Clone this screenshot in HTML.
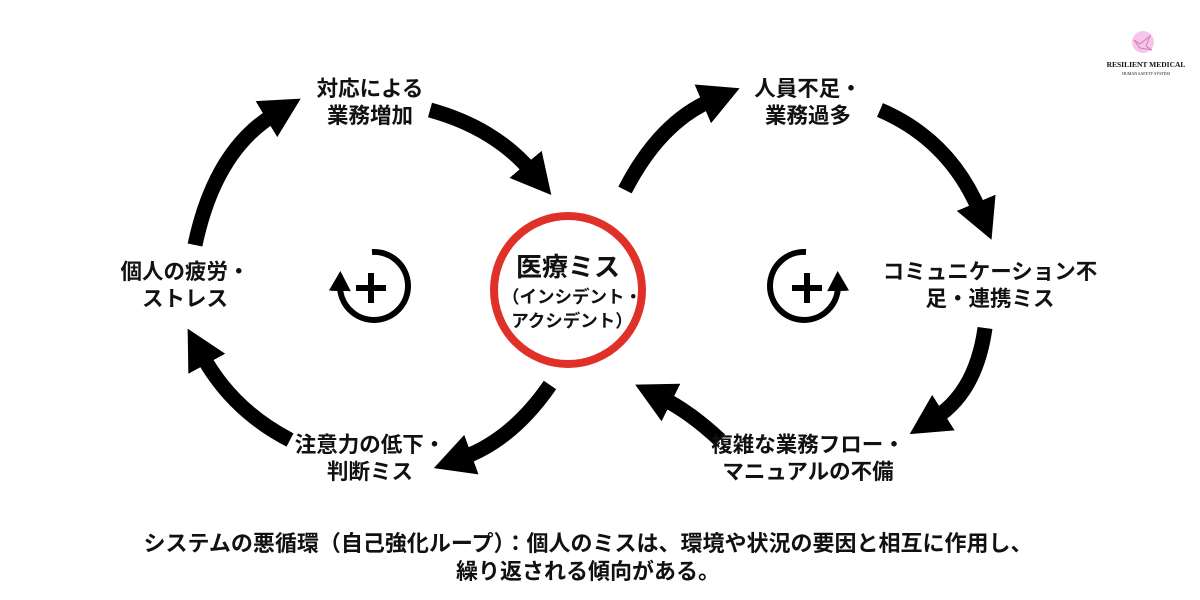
<!DOCTYPE html>
<html><head><meta charset="utf-8"><style>
html,body{margin:0;padding:0;background:#fff;}
svg{display:block;}
text{font-family:"Liberation Sans","Noto Sans CJK JP",sans-serif;font-weight:bold;fill:#111;}
</style></head><body>
<svg width="1200" height="600" viewBox="0 0 1200 600" xmlns="http://www.w3.org/2000/svg">
<defs>
<marker id="ah" markerUnits="userSpaceOnUse" markerWidth="50" markerHeight="50" refX="10" refY="21" orient="auto">
<path d="M0,0 L40,21 L0,42 Z" fill="#000"/>
</marker>
<marker id="sh" markerUnits="userSpaceOnUse" markerWidth="30" markerHeight="30" refX="6" refY="11" orient="auto">
<path d="M0,0 L20,11 L0,22 Z" fill="#000"/>
</marker>
</defs>
<g fill="none" stroke="#000" stroke-width="15" marker-end="url(#ah)">
<path d="M195,245 Q215,150 275,114"/>
<path d="M430,110 Q495,128 532,172"/>
<path d="M625,190 Q660,122 712,100"/>
<path d="M880,110 Q950,140 980,212"/>
<path d="M985,328 Q976,392 935,418"/>
<path d="M720,440 Q690,412 662,398"/>
<path d="M550,385 Q512,440 462,458"/>
<path d="M290,440 Q232,410 202,355"/>
</g>
<circle cx="568" cy="290" r="74" fill="none" stroke="#e0302a" stroke-width="8"/>
<text x="568" y="276" font-size="26" text-anchor="middle">医療ミス</text>
<text x="572" y="303" font-size="17.5" text-anchor="middle">（インシデント・</text>
<text x="572" y="327" font-size="17.5" text-anchor="middle">アクシデント）</text>
<g font-size="21.5">
<text x="370" y="96" text-anchor="middle">対応による</text>
<text x="370" y="123" text-anchor="middle">業務増加</text>
<text x="808" y="96" text-anchor="middle">人員不足・</text>
<text x="808" y="123" text-anchor="middle">業務過多</text>
<text x="185" y="279" text-anchor="middle">個人の疲労・</text>
<text x="185" y="306" text-anchor="middle">ストレス</text>
<text x="990" y="279" text-anchor="middle">コミュニケーション不</text>
<text x="990" y="306" text-anchor="middle">足・連携ミス</text>
<text x="370" y="452" text-anchor="middle">注意力の低下・</text>
<text x="370" y="479" text-anchor="middle">判断ミス</text>
<text x="808" y="452" text-anchor="middle">複雑な業務フロー・</text>
<text x="808" y="479" text-anchor="middle">マニュアルの不備</text>
</g>
<g stroke="#000" stroke-width="6" fill="none">
<path d="M372,252 A34,34 0 1 1 340,285" marker-end="url(#sh)"/>
<line x1="356" y1="288" x2="386" y2="288"/><line x1="371" y1="273" x2="371" y2="303"/>
<path d="M806,252 A34,34 0 1 0 838,285" marker-end="url(#sh)"/>
<line x1="792" y1="288" x2="822" y2="288"/><line x1="807" y1="273" x2="807" y2="303"/>
</g>
<text x="588" y="551" font-size="22" text-anchor="middle">システムの悪循環（自己強化ループ）：個人のミスは、環境や状況の要因と相互に作用し、</text>
<text x="588" y="579" font-size="22" text-anchor="middle">繰り返される傾向がある。</text>
<circle cx="1143" cy="42" r="11" fill="#f6c6ea"/>
<path d="M1134,40 L1140,44 L1150,36 L1146,46 L1152,50 L1140,48 Z" fill="none" stroke="#d77ab5" stroke-width="1"/>
<text x="1146" y="67" font-size="7.5" text-anchor="middle" style="font-family:'Liberation Serif',serif">RESILIENT MEDICAL</text>
<text x="1146" y="75" font-size="4" text-anchor="middle" style="font-family:'Liberation Serif',serif;font-weight:normal">HUMAN SAFETY SYSTEM</text>
</svg>
</body></html>
